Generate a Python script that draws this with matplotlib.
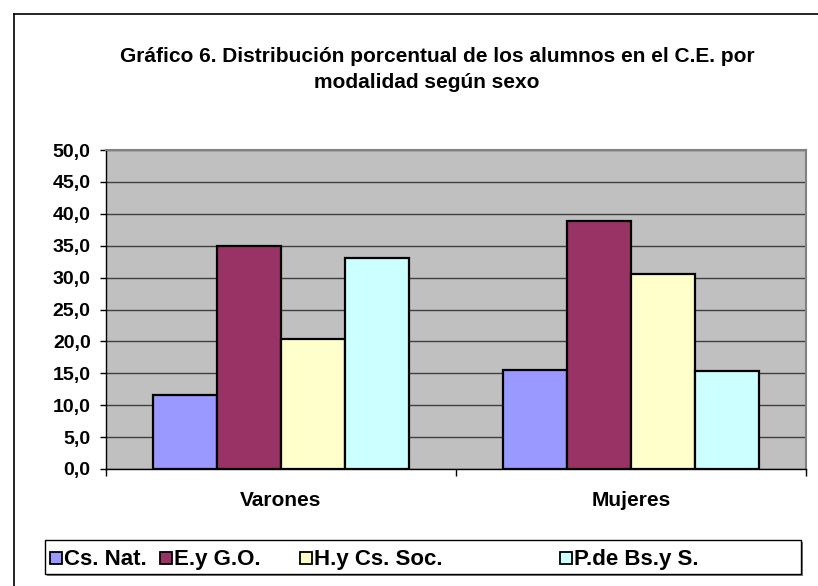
import matplotlib
matplotlib.use("Agg")
import matplotlib.pyplot as plt
import numpy as np
from matplotlib.patches import Rectangle
from matplotlib.lines import Line2D
from matplotlib.ticker import FixedLocator, FuncFormatter

plt.rcParams['font.family'] = ['Liberation Sans', 'DejaVu Sans']
plt.rcParams['font.weight'] = 'bold'

categories = ["Varones", "Mujeres"]
series_names = ["Cs. Nat.", "E.y G.O.", "H.y Cs. Soc.", "P.de Bs.y S."]
values = {
    "Cs. Nat.": [11.6, 15.5],
    "E.y G.O.": [35.0, 38.8],
    "H.y Cs. Soc.": [20.3, 30.6],
    "P.de Bs.y S.": [33.0, 15.3],
}
colors = ["#9999FF", "#993366", "#FFFFCC", "#CCFFFF"]
yticks = [0, 5, 10, 15, 20, 25, 30, 35, 40, 45, 50]
title_lines = ["Gráfico 6. Distribución porcentual de los alumnos en el C.E. por",
               "modalidad según sexo"]

W, H = 818, 586
fig = plt.figure(figsize=(W / 100, H / 100), dpi=100)
fig.patch.set_facecolor("white")

def fx(px):
    return px / W

def fy(py):
    return 1 - py / H

ax = fig.add_axes([fx(106), fy(469), fx(806) - fx(106), fy(150) - fy(469)])
ax.set_facecolor("#C0C0C0")

x = np.arange(len(categories))
bw = 0.183
for i, name in enumerate(series_names):
    ax.bar(x + (i - 1.5) * bw, values[name], width=bw, color=colors[i],
           edgecolor="black", linewidth=1.6, zorder=3)

ax.set_xlim(-0.5, len(categories) - 0.5)
ax.set_ylim(0, 50)
ax.yaxis.set_major_locator(FixedLocator(yticks))
ax.yaxis.set_major_formatter(FuncFormatter(lambda v, p: f"{v:.1f}".replace(".", ",")))
ax.grid(axis="y", color="#404040", linewidth=1.0, zorder=1)
ax.set_axisbelow(True)

ax.set_xticks(x)
ax.set_xticklabels(categories, fontsize=15, fontweight="bold")
ax.xaxis.set_minor_locator(FixedLocator([-0.5, 0.5, 1.5]))
ax.tick_params(axis="x", which="major", length=0, pad=16)
ax.tick_params(axis="x", which="minor", length=5, width=1, direction="out", color="black")
ax.tick_params(axis="y", which="major", length=4, width=1, direction="out", pad=7,
               labelsize=14)
for lab in ax.get_yticklabels():
    lab.set_fontweight("bold")

for s in ["left", "bottom"]:
    ax.spines[s].set_color("black")
    ax.spines[s].set_linewidth(1.0)
for s in ["top", "right"]:
    ax.spines[s].set_color("#808080")
    ax.spines[s].set_linewidth(1.5)

# title
fig.text(fx(437), fy(57), title_lines[0], ha="center", va="center",
         fontsize=15, fontweight="bold")
fig.text(fx(427), fy(83), title_lines[1], ha="center", va="center",
         fontsize=15, fontweight="bold")

# outer chart border (left and top edges)
fig.add_artist(Line2D([fx(14), fx(14)], [0, fy(14)], color="black", lw=1.2))
fig.add_artist(Line2D([fx(14), 1], [fy(14), fy(14)], color="black", lw=1.2))

# legend box with shadow
fig.add_artist(Rectangle((fx(47), fy(576)), fx(801) - fx(45), fy(540) - fy(574),
                         facecolor="#808080", edgecolor="none"))
fig.add_artist(Rectangle((fx(45), fy(574)), fx(801) - fx(45), fy(540) - fy(574),
                         facecolor="white", edgecolor="black", lw=1.0))
tx = [64, 174, 314, 574]
msz = 12
for i, name in enumerate(series_names):
    fig.add_artist(Rectangle((fx(tx[i] - msz - 2), fy(558 + msz / 2)), msz / W, msz / H,
                             facecolor=colors[i], edgecolor="black", lw=1.3))
    fig.text(fx(tx[i]), fy(565), name, ha="left", va="baseline",
             fontsize=16, fontweight="bold")

fig.savefig("out.png", dpi=100)
